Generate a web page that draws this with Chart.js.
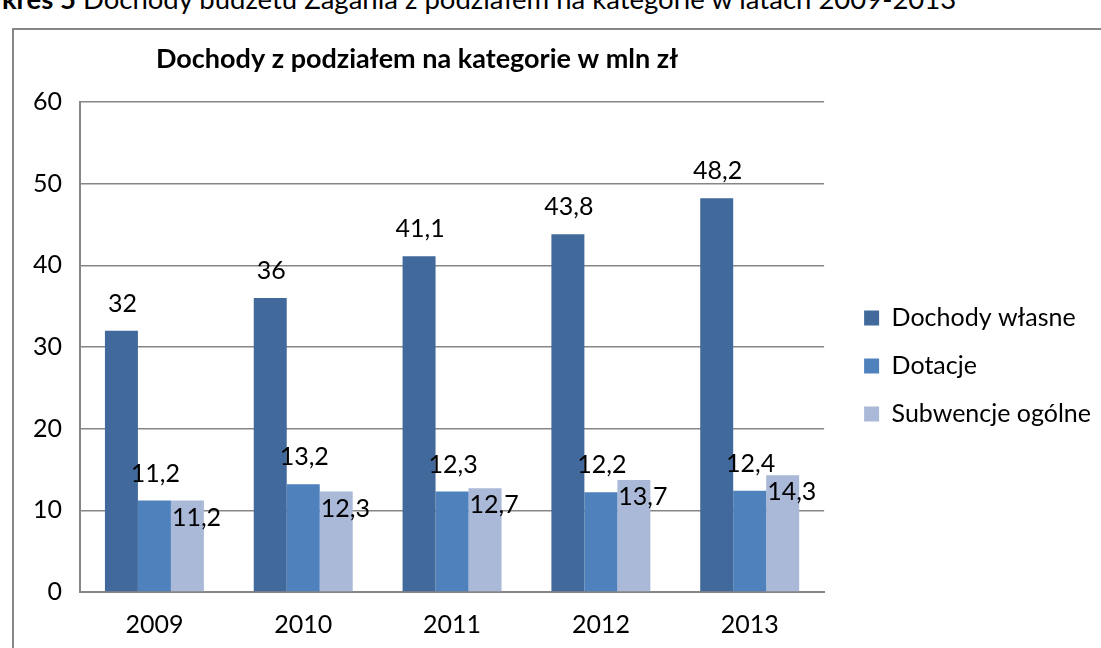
<!DOCTYPE html>
<html>
<head>
<meta charset="utf-8">
<script src="https://cdn.jsdelivr.net/npm/chart.js@4.4.1/dist/chart.umd.min.js"></script>
<style>
  body { margin: 0; background: #fff; overflow: hidden; }
  #caption {
    position: absolute; left: -41px; top: -18px;
    font-family: Lato, sans-serif; font-size: 27.5px; color: #000; white-space: nowrap;
  }
  #frame {
    position: absolute; left: 12px; top: 28px; width: 1200px; height: 700px;
    border-left: 2px solid #868686; border-top: 2px solid #868686; box-sizing: border-box;
  }
  #wrap { position: absolute; left: 0; top: 0; width: 1101px; height: 648px; }
</style>
</head>
<body>
<div id="caption"><b>Wykres 5</b> Dochody budżetu Zagania z podziałem na kategorie w latach 2009-2013</div>
<div id="frame"></div>
<div id="wrap"><canvas id="incomeChart"></canvas></div>
<script>
const years = ["2009", "2010", "2011", "2012", "2013"];
const ownIncome = [32, 36, 41.1, 43.8, 48.2];
const grants = [11.2, 13.2, 12.3, 12.2, 12.4];
const subsidies = [11.2, 12.3, 12.7, 13.7, 14.3];
const seriesNames = ["Dochody własne", "Dotacje", "Subwencje ogólne"];
const chartTitle = "Dochody z podziałem na kategorie w mln zł";

const FONT = "Lato, sans-serif";

function fmt(v) {
  return String(v).replace(".", ",");
}

// value labels and the chart title, drawn on top of the bars
const labelPlugin = {
  id: "valueLabels",
  afterLayout(chart) {
    // nudge the legend: further from the plot, a bit higher
    const legend = chart.legend;
    legend.left += 17;
    legend.right += 17;
    legend.top -= 9;
    legend.bottom -= 9;
  },
  afterDatasetsDraw(chart) {
    const ctx = chart.ctx;
    ctx.save();
    ctx.fillStyle = "#000";
    ctx.font = "25px " + FONT;
    ctx.textBaseline = "middle";
    chart.data.datasets.forEach((ds, i) => {
      const meta = chart.getDatasetMeta(i);
      meta.data.forEach((bar, j) => {
        const text = fmt(ds.data[j]);
        if (i === 2) {
          ctx.textAlign = "left";
          ctx.fillText(text, bar.x - bar.width / 2 + 1, bar.y + 17);
        } else {
          ctx.textAlign = "center";
          ctx.fillText(text, bar.x + 1, bar.y - 27);
        }
      });
    });

    const area = chart.chartArea;
    ctx.font = "bold 27px " + FONT;
    ctx.textAlign = "center";
    ctx.fillText(chartTitle, (area.left + area.right) / 2 - 35, 59);
    ctx.restore();
  },
};

const ctx = document.getElementById("incomeChart");

new Chart(ctx, {
  type: "bar",
  data: {
    labels: years,
    datasets: [
      {
        label: seriesNames[0],
        data: ownIncome,
        backgroundColor: "#41699B",
      },
      {
        label: seriesNames[1],
        data: grants,
        backgroundColor: "#4F81BD",
      },
      {
        label: seriesNames[2],
        data: subsidies,
        backgroundColor: "#AAB9D7",
      },
    ],
  },
  options: {
    responsive: true,
    maintainAspectRatio: false,
    animation: false,
    layout: {
      padding: { top: 102, left: 0, right: 17, bottom: 0 },
    },
    datasets: {
      bar: {
        categoryPercentage: 0.665,
        barPercentage: 1.0,
      },
    },
    plugins: {
      legend: {
        position: "right",
        align: "center",
        labels: {
          font: { family: FONT, size: 25 },
          color: "#000",
          boxWidth: 15,
          boxHeight: 15,
          padding: 23,
        },
      },
      title: { display: false },
      tooltip: { enabled: false },
    },
    scales: {
      x: {
        grid: { display: false, drawTicks: false },
        border: { color: "#868686", width: 2 },
        ticks: {
          font: { family: FONT, size: 25 },
          color: "#000",
          padding: 18,
        },
        afterFit(scale) {
          scale.height = 56;
        },
      },
      y: {
        min: 0,
        max: 60,
        ticks: {
          stepSize: 10,
          font: { family: FONT, size: 25 },
          color: "#000",
          padding: 18,
        },
        grid: { color: "#868686", lineWidth: 1.5, drawTicks: false },
        border: { color: "#868686", width: 2 },
        afterFit(scale) {
          scale.width = 80;
        },
      },
    },
  },
  plugins: [labelPlugin],
});
</script>
</body>
</html>
